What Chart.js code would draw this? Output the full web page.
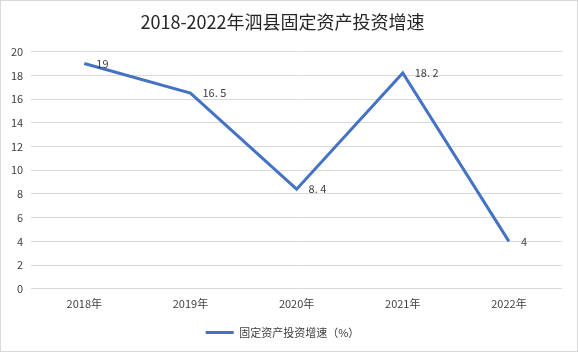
<!DOCTYPE html>
<html><head><meta charset="utf-8">
<script src="https://cdn.jsdelivr.net/npm/chart.js@4"></script>
<style>
html,body{margin:0;padding:0;background:#fff;}
#wrap{position:relative;width:576px;height:350px;border:1px solid #d9d9d9;}
</style></head>
<body><div id="wrap"><canvas id="c" width="576" height="350"></canvas></div>
<script>
const categories = ["2018年","2019年","2020年","2021年","2022年"];
const values = [19, 16.5, 8.4, 18.2, 4];
const valueLabels = ["19","16. 5","8. 4","18. 2","4"];
const seriesName = "固定资产投资增速（%）";
const titleText = "2018-2022年泗县固定资产投资增速";
const FONT = "'Noto Sans CJK SC','Microsoft YaHei','DejaVu Sans',sans-serif";

const labelPlugin = {
  id: 'labels',
  afterDatasetsDraw(chart){
    const ctx = chart.ctx;
    const meta = chart.getDatasetMeta(0);
    ctx.save();
    ctx.font = "11px " + FONT;
    ctx.fillStyle = "#404040";
    ctx.textAlign = "left";
    ctx.textBaseline = "middle";
    meta.data.forEach((p,i)=>{
      ctx.fillText(valueLabels[i], p.x + 12, p.y);
    });
    ctx.restore();
  }
};

new Chart(document.getElementById('c'), {
  type: 'line',
  data: {
    labels: categories,
    datasets: [{
      label: seriesName,
      data: values,
      borderColor: '#4472C4',
      backgroundColor: '#4472C4',
      borderWidth: 3,
      pointRadius: 0,
      tension: 0,
      fill: false
    }]
  },
  options: {
    responsive: false,
    animation: false,
    layout: {padding: {left: 2, right: 15, top: 0, bottom: 3}},
    plugins: {
      title: {display: true, text: titleText, color: '#262626',
        font: {family: FONT, size: 18, weight: 'normal'}, padding: {top: 10, bottom: 19}},
      legend: {display: true, position: 'bottom',
        labels: {color: '#404040', font: {family: FONT, size: 11}, boxWidth: 28, boxHeight: 0, padding: 17,
          generateLabels(chart){
            return [{text: seriesName, strokeStyle: '#4472C4', fillStyle:'#4472C4', lineWidth: 3, datasetIndex: 0, fontColor:'#404040'}];
          }}},
      tooltip: {enabled: false}
    },
    scales: {
      x: {
        offset: true,
        grid: {display: false},
        border: {display: false},
        ticks: {color: '#404040', font: {family: FONT, size: 11}, padding: 0}
      },
      y: {
        min: 0, max: 20,
        ticks: {stepSize: 2, color: '#404040', font: {family: FONT, size: 11}, padding: 8},
        grid: {color: '#d9d9d9', drawTicks: false},
        border: {display: false}
      }
    }
  },
  plugins: [labelPlugin]
});
</script></body></html>
